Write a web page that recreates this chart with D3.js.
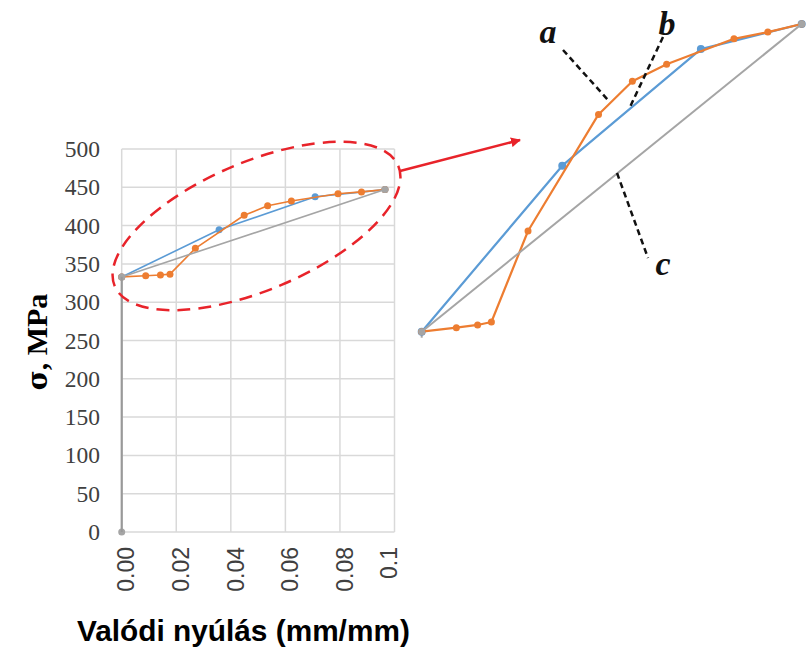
<!DOCTYPE html>
<html>
<head>
<meta charset="utf-8">
<script src="https://cdn.jsdelivr.net/npm/d3@7"></script>
<style>
  body { margin: 0; background: #fff; }
  svg { display: block; }
</style>
</head>
<body>
<svg id="chart" width="807" height="648"></svg>
<script>
// data
let strainGray = [0, 0, 0.0965];
let stressGray = [0, 333, 447];
let strainBlue = [0, 0.0357, 0.0709, 0.0965];
let stressBlue = [333, 394.5, 437.7, 447];
let strainOrange = [0, 0.0088, 0.0142, 0.0177, 0.0270, 0.0449, 0.0535, 0.0622, 0.0793, 0.0879, 0.0965];
let stressOrange = [333, 334.5, 335.5, 336.6, 370.3, 413.5, 425.8, 432.1, 441.5, 444, 447];
let xTicks = [0, 0.02, 0.04, 0.06, 0.08, 0.1];
let xTickLabels = ["0.00", "0.02", "0.04", "0.06", "0.08", "0.1"];
let yTicks = [0, 50, 100, 150, 200, 250, 300, 350, 400, 450, 500];
let seriesNames = ["a", "b", "c"];

const orange = "#ED7D31", blue = "#5B9BD5", gray = "#A5A5A5";

const zip = (xs, ys) => xs.map((x, i) => ({ x: x, y: ys[i] }));
const grayData = zip(strainGray, stressGray);
const blueData = zip(strainBlue, stressBlue);
const orangeData = zip(strainOrange, stressOrange);

const svg = d3.select("#chart");

// main chart
const x = d3.scaleLinear().domain([0, 0.1]).range([121.7, 394.5]);
const y = d3.scaleLinear().domain([0, 500]).range([532, 149]);

const grid = svg.append("g");
grid.selectAll(".gy").data(yTicks).enter().append("line")
    .attr("x1", x(0)).attr("x2", x(0.1))
    .attr("y1", d => y(d)).attr("y2", d => y(d))
    .attr("stroke", "#d9d9d9").attr("stroke-width", 1.5);
grid.selectAll(".gx").data(xTicks).enter().append("line")
    .attr("x1", d => x(d)).attr("x2", d => x(d))
    .attr("y1", y(0)).attr("y2", y(500))
    .attr("stroke", "#d9d9d9").attr("stroke-width", 1.5);

// y axis labels
const yAxis = d3.axisLeft(y).tickValues(yTicks).tickSize(0).tickPadding(0);
const yG = svg.append("g").attr("transform", "translate(100,0)").call(yAxis);
yG.select(".domain").remove();
yG.selectAll("text")
    .attr("font-family", "'Liberation Serif', 'Times New Roman', serif")
    .attr("font-size", 23.5).attr("fill", "#404040");

// x axis labels
const xAxis = d3.axisBottom(x).tickValues(xTicks).tickSize(0)
    .tickFormat((d, i) => xTickLabels[i]);
const xG = svg.append("g").attr("transform", "translate(0,547)").call(xAxis);
xG.select(".domain").remove();
xG.selectAll("text")
    .attr("font-family", "'Liberation Sans', Arial, sans-serif")
    .attr("font-size", 23).attr("fill", "#404040")
    .attr("text-anchor", "end")
    .attr("transform", (d, i) => "translate(" + (i === xTicks.length - 1 ? -6 : 4) + ",0) rotate(-90)")
    .attr("x", 0).attr("y", 0).attr("dy", "0.36em");

const yTitle = svg.append("text")
    .attr("transform", "translate(47,342) rotate(-90)")
    .attr("text-anchor", "middle")
    .attr("font-family", "'Liberation Serif', 'Times New Roman', serif")
    .attr("font-weight", "bold").attr("font-size", 30);
yTitle.append("tspan").attr("font-family", "'DejaVu Serif', serif").attr("font-size", 27).text("σ");
yTitle.append("tspan").text(", MPa");

svg.append("text")
    .attr("x", 77).attr("y", 641)
    .attr("font-family", "'Liberation Sans', Arial, sans-serif")
    .attr("font-weight", "bold").attr("font-size", 29.8)
    .text("Valódi nyúlás (mm/mm)");

function drawSeries(g, xs, ys, data, color, lw, r) {
    const line = d3.line().x(d => xs(d.x)).y(d => ys(d.y));
    g.append("path").datum(data)
        .attr("d", line).attr("fill", "none")
        .attr("stroke", color).attr("stroke-width", lw)
        .attr("stroke-linejoin", "round");
    g.selectAll(null).data(data).enter().append("circle")
        .attr("cx", d => xs(d.x)).attr("cy", d => ys(d.y))
        .attr("r", r).attr("fill", color);
}

const plot = svg.append("g");
drawSeries(plot, x, y, blueData, blue, 1.6, 3.5);
drawSeries(plot, x, y, orangeData, orange, 1.6, 3.5);
drawSeries(plot, x, y, grayData, gray, 1.6, 3.5);
// the vertical part of c sits on the grid line, so it reads darker there
plot.append("line")
    .attr("x1", x(strainGray[0])).attr("x2", x(strainGray[1]))
    .attr("y1", y(stressGray[0])).attr("y2", y(stressGray[1]))
    .attr("stroke", "#999").attr("stroke-width", 2);

// red dashed ellipse and arrow
svg.append("ellipse")
    .attr("transform", "translate(256.5,226) rotate(-23)")
    .attr("rx", 154).attr("ry", 64)
    .attr("fill", "none").attr("stroke", "#E8232A")
    .attr("stroke-width", 2.5).attr("stroke-dasharray", "13 8");

svg.append("defs").append("marker")
    .attr("id", "arrow").attr("viewBox", "0 0 10 10")
    .attr("refX", 9).attr("refY", 5)
    .attr("markerWidth", 4).attr("markerHeight", 4)
    .attr("markerUnits", "strokeWidth")
    .attr("orient", "auto")
    .append("path").attr("d", "M0,0 L10,5 L0,10 z").attr("fill", "#E8232A");

svg.append("line")
    .attr("x1", 400).attr("y1", 171).attr("x2", 520).attr("y2", 140)
    .attr("stroke", "#E8232A").attr("stroke-width", 2.5)
    .attr("marker-end", "url(#arrow)");

// zoomed inset
const xi = d3.scaleLinear().domain([strainGray[1], strainGray[2]]).range([421.7, 801.7]);
const yi = d3.scaleLinear().domain([stressGray[1], stressGray[2]]).range([331.7, 24]);

const inset = svg.append("g");
inset.append("line")
    .attr("x1", xi(0)).attr("x2", xi(0))
    .attr("y1", yi(stressGray[1])).attr("y2", yi(stressGray[1]) + 6)
    .attr("stroke", gray).attr("stroke-width", 2);
drawSeries(inset, xi, yi, blueData, blue, 2.2, 4);
drawSeries(inset, xi, yi, orangeData, orange, 2.2, 3.5);
drawSeries(inset, xi, yi, grayData.slice(1), gray, 2, 3.5);

// leader lines and labels
const leaders = [
    { x1: 563, y1: 50, x2: 608, y2: 100 },
    { x1: 663, y1: 37, x2: 630, y2: 107 },
    { x1: 617, y1: 173, x2: 648, y2: 258 }
];
svg.selectAll(".leader").data(leaders).enter().append("line")
    .attr("x1", d => d.x1).attr("y1", d => d.y1)
    .attr("x2", d => d.x2).attr("y2", d => d.y2)
    .attr("stroke", "#111").attr("stroke-width", 2.5)
    .attr("stroke-dasharray", "6 4");

const labelPos = [[548, 43], [667, 35], [663, 275]];
svg.selectAll(".lbl").data(seriesNames).enter().append("text")
    .attr("x", (d, i) => labelPos[i][0]).attr("y", (d, i) => labelPos[i][1])
    .attr("text-anchor", "middle")
    .attr("font-family", "'Liberation Serif', 'Times New Roman', serif")
    .attr("font-weight", "bold").attr("font-style", "italic")
    .attr("font-size", 34).attr("fill", "#111")
    .text(d => d);
</script>
</body>
</html>
